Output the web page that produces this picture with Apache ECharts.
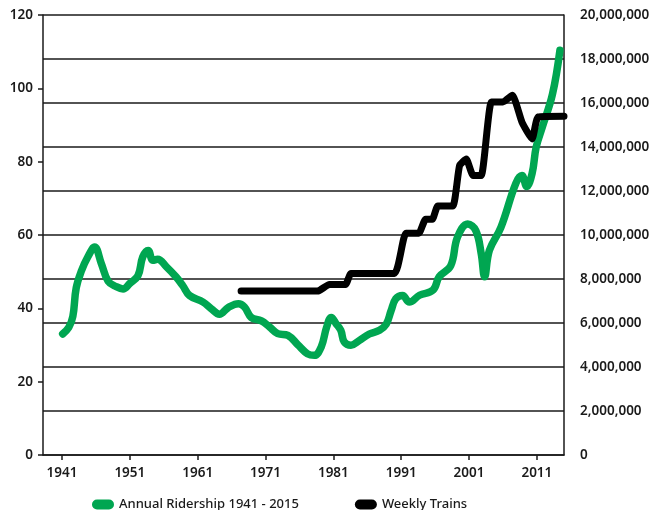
<!DOCTYPE html>
<html>
<head>
<meta charset="utf-8">
<script src="https://cdn.jsdelivr.net/npm/echarts@6/dist/echarts.min.js"></script>
<style>
  html, body { margin: 0; padding: 0; background: #fff; }
  #chart { width: 659px; height: 510px; }
</style>
</head>
<body>
<div id="chart"></div>
<script>
// year ticks shown on the x axis
const yearTicks = [1941, 1951, 1961, 1971, 1981, 1991, 2001, 2011]

// Annual ridership (right axis)
const ridershipYears = [
  1941.1, 1942.0, 1942.6, 1943.1, 1943.9, 1944.8, 1945.8, 1946.8, 1947.8, 1949.0,
  1950.0, 1951.0, 1952.2, 1952.9, 1953.7, 1954.4, 1955.1, 1956.4, 1957.8, 1958.8,
  1959.8, 1961.8, 1963.0, 1964.2, 1965.5, 1967.0, 1967.9, 1968.9, 1970.4, 1971.6,
  1972.8, 1974.3, 1975.8, 1977.2, 1978.2, 1979.2, 1980.0, 1980.7, 1981.4, 1982.1,
  1982.6, 1983.6, 1984.8, 1986.3, 1987.8, 1988.8, 1989.5, 1990.2, 1991.2, 1992.2,
  1993.7, 1995.7, 1996.6, 1998.3, 1999.3, 2000.8, 2002.0, 2002.8, 2003.3, 2004.0,
  2005.7, 2007.9, 2008.8, 2009.5, 2010.3, 2010.9, 2011.8, 2013.3, 2014.4
]
const ridership = [
  5500000, 5800000, 6300000, 7600000, 8400000, 9000000, 9450000, 8700000, 7900000, 7650000,
  7550000, 7800000, 8150000, 9000000, 9300000, 8850000, 8900000, 8550000, 8100000, 7700000,
  7250000, 6950000, 6650000, 6400000, 6700000, 6880000, 6730000, 6250000, 6100000, 5820000,
  5520000, 5440000, 5000000, 4600000, 4530000, 4900000, 5800000, 6250000, 5970000, 5670000,
  5140000, 4990000, 5200000, 5500000, 5670000, 5950000, 6550000, 7100000, 7250000, 6950000,
  7260000, 7500000, 8100000, 8600000, 9900000, 10500000, 10200000, 9150000, 8100000, 9300000,
  10350000, 12350000, 12700000, 12200000, 12800000, 14000000, 14900000, 16400000, 18400000
]

// Weekly trains (left axis)
const trainYears = [
  1967.4, 1978.7, 1980.4, 1982.8, 1983.6, 1990.0, 1991.7, 1993.6, 1994.6, 1995.6,
  1996.4, 1998.6, 1999.6, 2000.6, 2001.6, 2002.8, 2004.3, 2006.0, 2007.4, 2008.8,
  2010.3, 2011.2, 2015.0
]
const trains = [
  44.7, 44.7, 46.5, 46.5, 49.5, 49.5, 60.5, 60.5, 64.3, 64.3,
  67.9, 67.9, 78.9, 80.7, 76.2, 76.2, 96.3, 96.3, 98.1, 90.8,
  86.2, 92.2, 92.4
]

const labelFont = { color: '#1a1a1a', fontSize: 13.5, fontWeight: 600, fontFamily: 'Noto Sans' }
// pill shaped legend marker
const pill = 'path://M5,0 H17 A5,5 0 0 1 17,10 H5 A5,5 0 0 1 5,0 Z'

const chart = echarts.init(document.getElementById('chart'))

chart.setOption({
  animation: false,
  grid: { left: 43, right: 95, top: 15, bottom: 55, outerBoundsMode: 'none' },
  legend: {
    left: 87,
    top: 493,
    itemGap: 56,
    itemWidth: 22,
    itemHeight: 10,
    icon: pill,
    textStyle: { color: '#1a1a1a', fontSize: 13, fontWeight: 500, fontFamily: 'Noto Sans' },
    data: ['Annual Ridership 1941 - 2015', 'Weekly Trains']
  },
  xAxis: {
    type: 'value',
    min: 1938.2,
    max: 2015,
    axisLine: { lineStyle: { color: '#1a1a1a', width: 1.5 } },
    axisTick: { customValues: yearTicks, length: 5, lineStyle: { color: '#1a1a1a', width: 1.5 } },
    axisLabel: Object.assign({
      customValues: yearTicks,
      margin: 11,
      formatter: v => String(v)
    }, labelFont),
    splitLine: { show: false }
  },
  yAxis: [
    {
      type: 'value',
      min: 0,
      max: 120,
      interval: 20,
      axisLine: { show: true, lineStyle: { color: '#1a1a1a', width: 1.5 } },
      axisTick: { show: true, length: 5, lineStyle: { color: '#1a1a1a', width: 1.5 } },
      axisLabel: Object.assign({ margin: 10 }, labelFont),
      splitLine: { show: false }
    },
    {
      type: 'value',
      min: 0,
      max: 20000000,
      interval: 2000000,
      position: 'right',
      axisLine: { show: true, lineStyle: { color: '#1a1a1a', width: 1.5 } },
      axisTick: { show: false },
      axisLabel: Object.assign({
        margin: 16,
        formatter: v => v.toLocaleString('en-US')
      }, labelFont),
      splitLine: { show: true, lineStyle: { color: '#1a1a1a', width: 1.5 } }
    }
  ],
  series: [
    {
      name: 'Annual Ridership 1941 - 2015',
      type: 'line',
      yAxisIndex: 1,
      smooth: 0.4,
      symbol: 'none',
      color: '#00a651',
      lineStyle: { width: 7.5, cap: 'round', join: 'round' },
      data: ridershipYears.map((y, i) => [y, ridership[i]])
    },
    {
      name: 'Weekly Trains',
      type: 'line',
      yAxisIndex: 0,
      smooth: 0.15,
      symbol: 'none',
      color: '#000',
      lineStyle: { width: 7, cap: 'round', join: 'round' },
      data: trainYears.map((y, i) => [y, trains[i]])
    }
  ]
})
</script>
</body>
</html>
